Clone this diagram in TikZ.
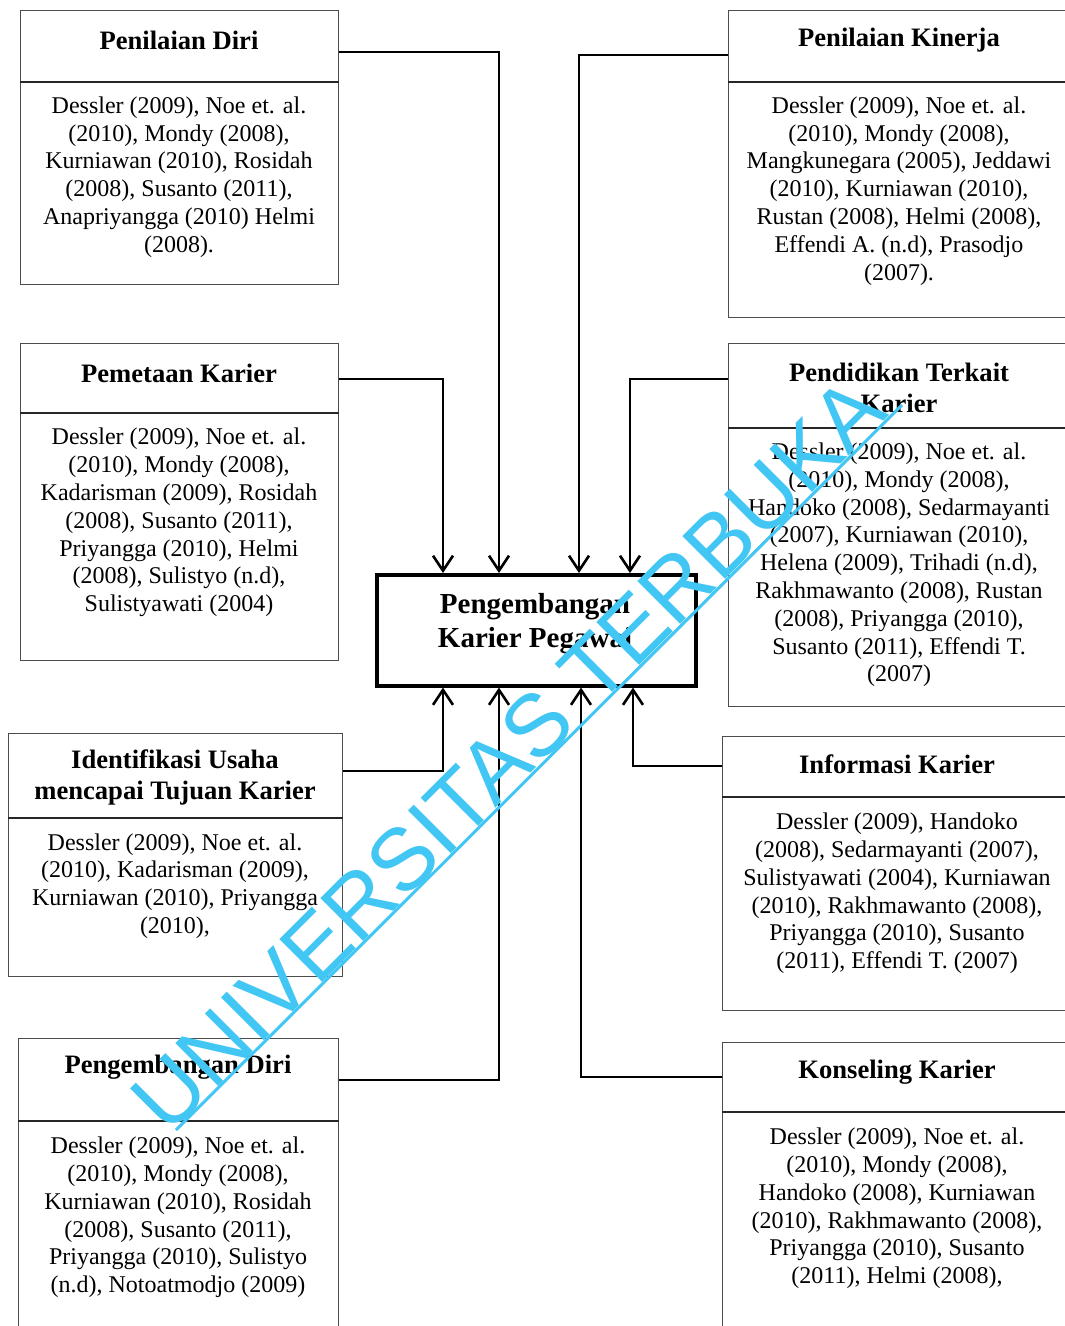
\documentclass[tikz,border=0pt]{standalone}
\usepackage{fontspec}
\setmainfont{Liberation Serif}
\newfontfamily\wmfont{Liberation Sans}
\usetikzlibrary{arrows.meta,calc}
\definecolor{wmcol}{RGB}{66,199,244}
\begin{document}
\begin{tikzpicture}[x=1pt,y=-1pt,
  box/.style={draw=black!70, line width=1.3pt, anchor=north west, inner sep=0},
  divline/.style={draw=black!85, line width=1.1pt},
  ttl/.style={font=\fontsize{26.6}{31.5}\selectfont\bfseries, align=center, inner sep=0, yshift=-2.5pt},
  body/.style={font=\fontsize{24}{27.8}\selectfont, align=center, inner sep=0, yshift=-2.5pt},
  conn/.style={line width=2.6pt, -{Straight Barb[length=15pt,width=20pt]}},
  mainbox/.style={draw=black, line width=3.5pt, anchor=north west, inner sep=0, minimum width=319, minimum height=111},
  wmtext/.style={text=wmcol, font=\wmfont\fontsize{88}{88}\selectfont, inner sep=0},
  wmline/.style={draw=wmcol, line width=3pt}
]
\useasboundingbox (0,0) rectangle (1065,1326);
\clip (0,0) rectangle (1065,1326);
\fill[white] (0,0) rectangle (1065,1326);

% ---------- boxes ----------
\node[box, minimum width=318, minimum height=274] (pd) at (20,10) {};
\node[box, minimum width=318, minimum height=317] (pm) at (20,343) {};
\node[box, minimum width=334, minimum height=243] (iu) at (8,733) {};
\node[box, minimum width=320, minimum height=310] (pg) at (18,1038) {};
\node[box, minimum width=345, minimum height=307] (pk) at (728,10) {};
\node[box, minimum width=345, minimum height=363] (pt) at (728,343) {};
\node[box, minimum width=350, minimum height=274] (ik) at (722,736) {};
\node[box, minimum width=350, minimum height=310] (kk) at (722,1042) {};
\node[mainbox] (cb) at (375,573) {};

% ---------- dividers ----------
\draw[divline] ([yshift=-72pt]pd.north west) -- ([yshift=-72pt]pd.north east);
\draw[divline] ([yshift=-70pt]pm.north west) -- ([yshift=-70pt]pm.north east);
\draw[divline] ([yshift=-85pt]iu.north west) -- ([yshift=-85pt]iu.north east);
\draw[divline] ([yshift=-83pt]pg.north west) -- ([yshift=-83pt]pg.north east);
\draw[divline] ([yshift=-72pt]pk.north west) -- ([yshift=-72pt]pk.north east);
\draw[divline] ([yshift=-85pt]pt.north west) -- ([yshift=-85pt]pt.north east);
\draw[divline] ([yshift=-61pt]ik.north west) -- ([yshift=-61pt]ik.north east);
\draw[divline] ([yshift=-70pt]kk.north west) -- ([yshift=-70pt]kk.north east);

% ---------- titles ----------
\node[ttl] (pdT) at (179,38) {Penilaian Diri};
\node[ttl] (pmT) at (179,371) {Pemetaan Karier};
\node[ttl] (iuT) at (175,775) {Identifikasi Usaha\\mencapai Tujuan Karier};
\node[ttl] (pgT) at (178,1065) {Pengembangan Diri};
\node[ttl] (pkT) at (899,38) {Penilaian Kinerja};
\node[ttl] (ptT) at (899,385.5) {Pendidikan Terkait\\Karier};
\node[ttl] (ikT) at (897,762) {Informasi Karier};
\node[ttl] (kkT) at (897,1070) {Konseling Karier};
\node[ttl, font=\fontsize{29}{33.8}\selectfont\bfseries] (cbT) at (535,621) {Pengembangan\\Karier Pegawai};

% ---------- bodies ----------
\node[body] (pdB) at (179,174.5) {Dessler (2009), Noe et. al.\\(2010), Mondy (2008),\\Kurniawan (2010), Rosidah\\(2008), Susanto (2011),\\Anapriyangga (2010) Helmi\\(2008).};
\node[body] (pmB) at (179,520) {Dessler (2009), Noe et. al.\\(2010), Mondy (2008),\\Kadarisman (2009), Rosidah\\(2008), Susanto (2011),\\Priyangga (2010), Helmi\\(2008), Sulistyo (n.d),\\Sulistyawati (2004)};
\node[body] (iuB) at (175,883.5) {Dessler (2009), Noe et. al.\\(2010), Kadarisman (2009),\\Kurniawan (2010), Priyangga\\(2010),};
\node[body] (pgB) at (178,1215) {Dessler (2009), Noe et. al.\\(2010), Mondy (2008),\\Kurniawan (2010), Rosidah\\(2008), Susanto (2011),\\Priyangga (2010), Sulistyo\\(n.d), Notoatmodjo (2009)};
\node[body] (pkB) at (899,188.5) {Dessler (2009), Noe et. al.\\(2010), Mondy (2008),\\Mangkunegara (2005), Jeddawi\\(2010), Kurniawan (2010),\\Rustan (2008), Helmi (2008),\\Effendi A. (n.d), Prasodjo\\(2007).};
\node[body] (ptB) at (899,562.5) {Dessler (2009), Noe et. al.\\(2010), Mondy (2008),\\Handoko (2008), Sedarmayanti\\(2007), Kurniawan (2010),\\Helena (2009), Trihadi (n.d),\\Rakhmawanto (2008), Rustan\\(2008), Priyangga (2010),\\Susanto (2011), Effendi T.\\(2007)};
\node[body] (ikB) at (897,891) {Dessler (2009), Handoko\\(2008), Sedarmayanti (2007),\\Sulistyawati (2004), Kurniawan\\(2010), Rakhmawanto (2008),\\Priyangga (2010), Susanto\\(2011), Effendi T. (2007)};
\node[body] (kkB) at (897,1206) {Dessler (2009), Noe et. al.\\(2010), Mondy (2008),\\Handoko (2008), Kurniawan\\(2010), Rakhmawanto (2008),\\Priyangga (2010), Susanto\\(2011), Helmi (2008),};

% ---------- connectors ----------
\draw[conn] ([yshift=-42pt]pd.north east) -| ([xshift=124pt]cb.north west);
\draw[conn] ([yshift=-36pt]pm.north east) -| ([xshift=68pt]cb.north west);
\draw[conn] ([yshift=-45pt]pk.north west) -| ([xshift=204pt]cb.north west);
\draw[conn] ([yshift=-36pt]pt.north west) -| ([xshift=255pt]cb.north west);
\draw[conn] ([yshift=-38pt]iu.north east) -| ([xshift=68pt]cb.south west);
\draw[conn] ([yshift=-42pt]pg.north east) -| ([xshift=124pt]cb.south west);
\draw[conn] ([yshift=-35pt]kk.north west) -| ([xshift=206pt]cb.south west);
\draw[conn] ([yshift=-30pt]ik.north west) -| ([xshift=258pt]cb.south west);

% ---------- watermark ----------
\node[wmtext, rotate=45] (wm) at (508,754) {UNIVERSITAS TERBUKA};
\draw[wmline] (176,1130) -- (902,405);
\end{tikzpicture}
\end{document}
